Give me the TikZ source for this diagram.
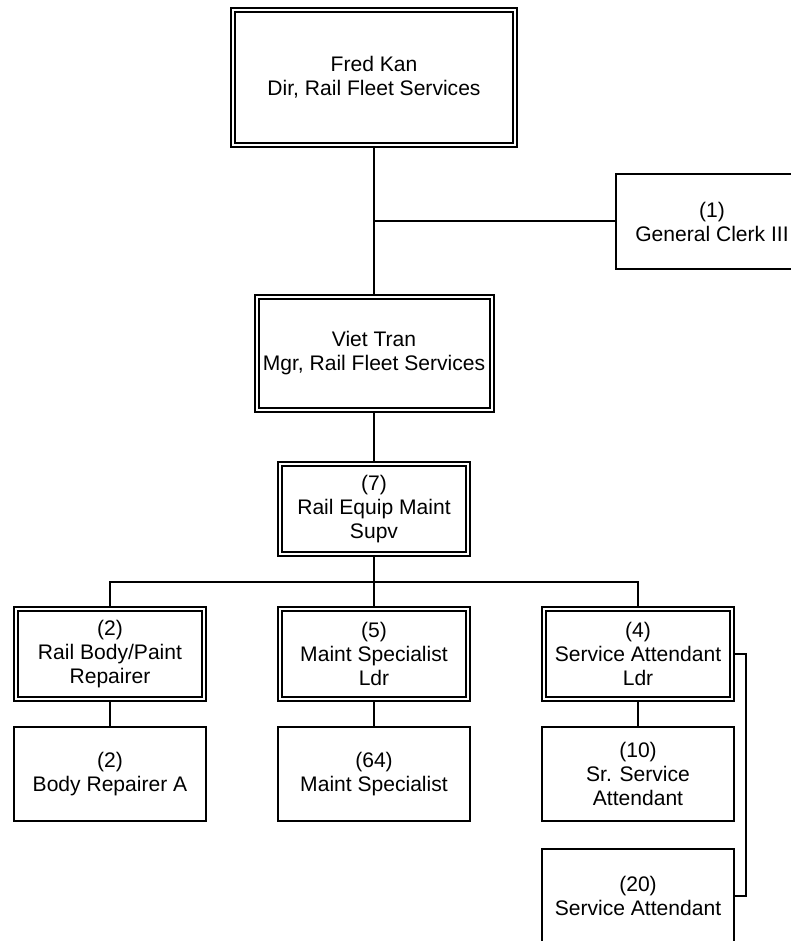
\documentclass[tikz,border=0pt]{standalone}
\usepackage{fontspec}
\setmainfont{Liberation Sans}
\begin{document}
\begin{tikzpicture}[
        x=0.75pt, y=-0.75pt, line width=1.5pt,
        every node/.style={align=center, inner sep=0pt, font=\fontsize{15.8}{18}\selectfont},
        box/.style={draw, minimum width=144pt, minimum height=70.5pt, outer sep=0.75pt},
        dbox/.style={draw, double, double distance=1.5pt, minimum width=141pt, minimum height=67.5pt, outer sep=2.25pt},
        node distance=90pt
      ]
        \useasboundingbox (0,0) rectangle (790,941);
        \node[dbox, minimum width=211.5pt, minimum height=101.25pt] (fred) at (374,77.5) {Fred Kan\\Dir, Rail Fleet Services};
        \node[box] (clerk) at (712,221.5) {(1)\\General Clerk III};
        \node[dbox, minimum width=176.25pt, minimum height=84.75pt] (viet) at (374,353.5) {Viet Tran\\Mgr, Rail Fleet Services};
        \node[dbox] (supv) at (374,509) {(7)\\Rail Equip Maint\\Supv};
        \node[dbox] (mspl) at (374,654) {(5)\\Maint Specialist\\Ldr};
        \node[dbox] (body) [node distance=198pt, left of=mspl] {(2)\\Rail Body/Paint\\Repairer};
        \node[dbox] (sal) [node distance=198pt, right of=mspl] {(4)\\Service Attendant\\Ldr};
        \node[box] (bra) [below of=body] {(2)\\Body Repairer A};
        \node[box] (ms) [below of=mspl] {(64)\\Maint Specialist};
        \node[box] (ssa) [below of=sal] {(10)\\Sr. Service\\Attendant};
        \node[box] (sa) [node distance=91.5pt, below of=ssa] {(20)\\Service Attendant};
        \coordinate (tee) at (fred.south |- clerk.west);
        \coordinate (split) at (374,582);
        \draw (fred) -- (viet);
        \draw (tee) -- (clerk);
        \draw (viet) -- (supv);
        \draw (supv) -- (split);
        \draw (body.north) |- (split) -| (sal.north);
        \draw (split) -- (mspl);
        \draw (body) -- (bra);
        \draw (mspl) -- (ms);
        \draw (sal) -- (ssa);
        \draw (sal.east) -- ++(11,0) |- (sa.east);
      \end{tikzpicture}
\end{document}
